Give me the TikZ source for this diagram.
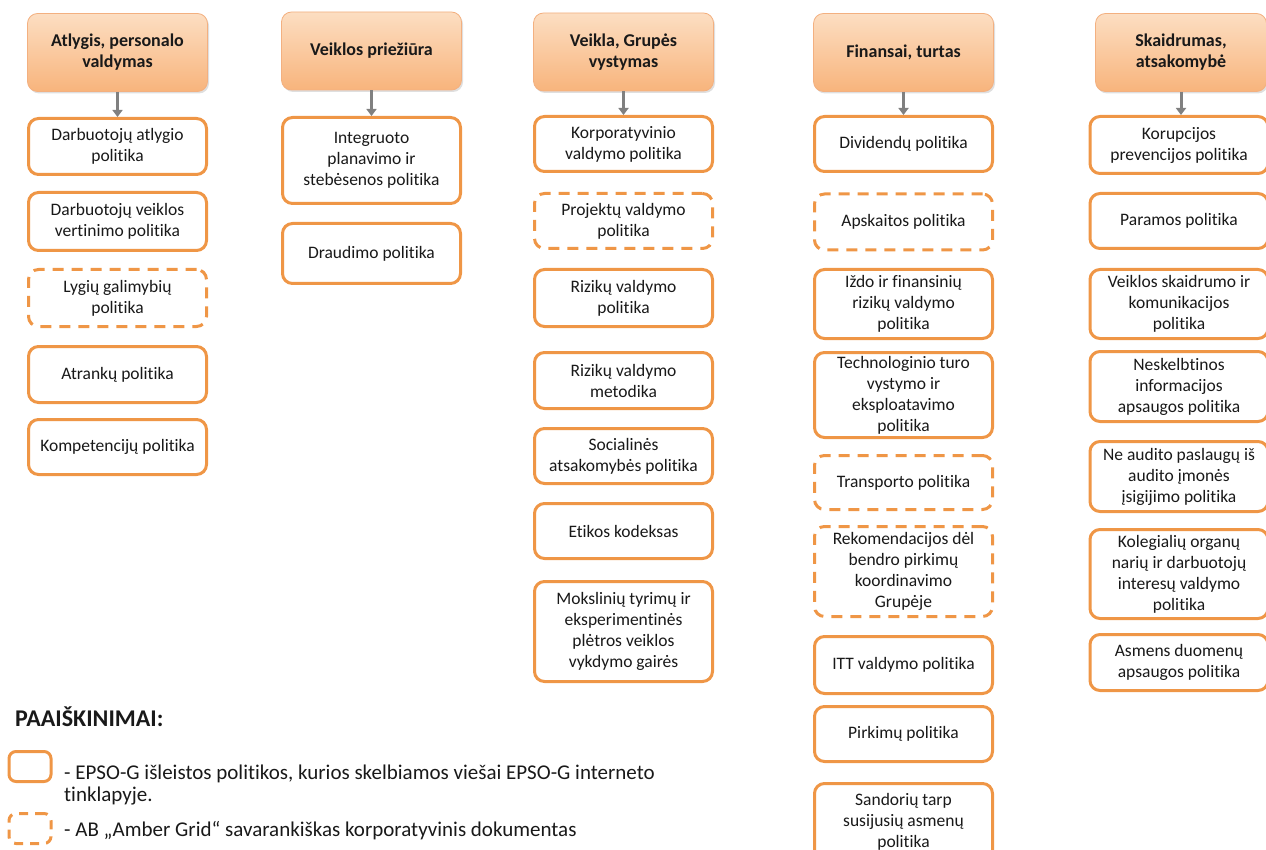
\documentclass[tikz,border=0pt]{standalone}
\usepackage{fontspec}
\setmainfont{Carlito}[Ligatures=NoCommon]
\usepackage{tikz}
\usetikzlibrary{arrows.meta}
\usetikzlibrary{shadows}
\usepackage{xcolor}
\definecolor{PolOrange}{RGB}{239,150,70}
\definecolor{HeadTop}{RGB}{252,222,194}
\definecolor{HeadBot}{RGB}{248,180,124}
\definecolor{HeadLine}{RGB}{243,176,128}
\definecolor{LinkGray}{RGB}{128,128,128}
\tikzset{
	>={Triangle[length=7pt,width=10pt]},
	head/.style={draw=HeadLine, line width=0.8pt, rounded corners=10pt,
		top color=HeadTop, bottom color=HeadBot,
		minimum width=180pt, minimum height=78pt, align=center,
		font=\fontsize{18}{21}\selectfont\bfseries, text=black!90,
		drop shadow={opacity=0.25, shadow xshift=1.5pt, shadow yshift=-2pt}},
	pol/.style={draw=PolOrange, line width=3pt, rounded corners=10pt, fill=white,
		minimum width=178pt, inner xsep=2pt, align=center,
		font=\fontsize{17.5}{21}\selectfont, text=black!90},
	poldash/.style={pol, dash pattern=on 11pt off 8pt},
	legendbox/.style={draw=PolOrange, line width=3pt, rounded corners=7pt,
		minimum width=42pt, minimum height=30pt},
	legendhead/.style={font=\fontsize{24}{28}\selectfont\bfseries, text=black!90, anchor=base west, inner sep=0pt},
	legendtext/.style={font=\fontsize{21}{22.5}\selectfont, text=black!90, align=left, anchor=base west, inner sep=0pt},
	link/.style={->, LinkGray, line width=3pt},
}

\begin{document}
\begin{tikzpicture}[x=1pt,y=-1pt]
	\useasboundingbox (0,0) rectangle (1266,850);
	
	% column headings
	\node[head] (h1) at (117.5,52.5) {Atlygis, personalo\\valdymas};
	\node[head] (h2) at (371.5,51) {Veiklos priežiūra};
	\node[head] (h3) at (623.5,52) {Veikla, Grupės\\vystymas};
	\node[head] (h4) at (903.5,52.5) {Finansai, turtas};
	\node[head, minimum width=171pt] (h5) at (1181,52.5) {Skaidrumas,\\atsakomybė};
	
	% Atlygis, personalo valdymas
	\node[pol, minimum height=56pt] (a1) at (117.5,146.5) {Darbuotojų atlygio\\politika};
	\node[pol, minimum height=58pt] (a2) at (117.5,221.5) {Darbuotojų veiklos\\vertinimo politika};
	\node[poldash, minimum height=57pt] (a3) at (117.5,298) {Lygių galimybių\\politika};
	\node[pol, minimum height=56pt] (a4) at (117.5,374.5) {Atrankų politika};
	\node[pol, minimum height=55pt] (a5) at (117.5,447) {Kompetencijų politika};
	
	% Veiklos priežiūra
	\node[pol, minimum height=86pt] (b1) at (371.5,160.5) {Integruoto\\planavimo ir\\stebėsenos politika};
	\node[pol, minimum height=60pt] (b2) at (371.5,253.5) {Draudimo politika};
	
	% Veikla, Grupės vystymas
	\node[pol, minimum height=55pt] (c1) at (623.5,144) {Korporatyvinio\\valdymo politika};
	\node[poldash, minimum height=55pt] (c2) at (623.5,221) {Projektų valdymo\\politika};
	\node[pol, minimum height=57pt] (c3) at (623.5,298) {Rizikų valdymo\\politika};
	\node[pol, minimum height=56pt] (c4) at (623.5,380.5) {Rizikų valdymo\\metodika};
	\node[pol, minimum height=55pt] (c5) at (623.5,456) {Socialinės\\atsakomybės politika};
	\node[pol, minimum height=55pt] (c6) at (623.5,531) {Etikos kodeksas};
	\node[pol, minimum height=100pt] (c7) at (623.5,631.5) {Mokslinių tyrimų ir\\eksperimentinės\\plėtros veiklos\\vykdymo gairės};
	
	% Finansai, turtas
	\node[pol, minimum height=55pt] (d1) at (903.5,144) {Dividendų politika};
	\node[poldash, minimum height=56pt] (d2) at (903.5,222) {Apskaitos politika};
	\node[pol, minimum height=69pt] (d3) at (903.5,304) {Iždo ir finansinių\\rizikų valdymo\\politika};
	\node[pol, minimum height=85pt] (d4) at (903.5,395) {Technologinio turo\\vystymo ir\\eksploatavimo\\politika};
	\node[poldash, minimum height=54pt] (d5) at (903.5,482.5) {Transporto politika};
	\node[poldash, minimum height=90pt] (d6) at (903.5,571.5) {Rekomendacijos dėl\\bendro pirkimų\\koordinavimo\\Grupėje};
	\node[pol, minimum height=57pt] (d7) at (903.5,665) {ITT valdymo politika};
	\node[pol, minimum height=55pt] (d8) at (903.5,734) {Pirkimų politika};
	\node[pol, minimum height=77pt] (d9) at (903.5,822) {Sandorių tarp\\susijusių asmenų\\politika};
	
	% Skaidrumas, atsakomybe
	\begin{scope}[every node/.append style={minimum width=171pt}]
	\node[pol, minimum height=57pt] (e1) at (1179,145) {Korupcijos\\prevencijos politika};
	\node[pol, minimum height=55pt] (e2) at (1179,221) {Paramos politika};
	\node[pol, minimum height=69pt] (e3) at (1179,304) {Veiklos skaidrumo ir\\komunikacijos\\politika};
	\node[pol, minimum height=70pt] (e4) at (1179,386.5) {Neskelbtinos\\informacijos\\apsaugos politika};
	\node[pol, minimum height=70pt] (e5) at (1179,476.5) {Ne audito paslaugų iš\\audito įmonės\\įsigijimo politika};
	\node[pol, minimum height=89pt] (e6) at (1179,574) {Kolegialių organų\\narių ir darbuotojų\\interesų valdymo\\politika};
	\node[pol, minimum height=56pt] (e7) at (1179,662.5) {Asmens duomenų\\apsaugos politika};
	\end{scope}
	
	% heading -> first policy
	\foreach \u/\v in {h1/a1,h2/b1,h3/c1,h4/d1,h5/e1}
		\draw[link] (\u.south) -- (\u.south |- \v.north);
	
	% legend
	\node[legendhead] (lh) at (15,726) {PAAIŠKINIMAI:};
	\node[legendbox] (lb1) at (30,766.5) {};
	\node[legendbox, dash pattern=on 9pt off 7pt] (lb2) at (30,828.5) {};
	\node[legendtext] (lt1) at (64,801.5) {- EPSO-G išleistos politikos, kurios skelbiamos viešai EPSO-G interneto\\tinklapyje.};
	\node[legendtext] (lt2) at (64,836) {- AB „Amber Grid“ savarankiškas korporatyvinis dokumentas};
\end{tikzpicture}
\end{document}
